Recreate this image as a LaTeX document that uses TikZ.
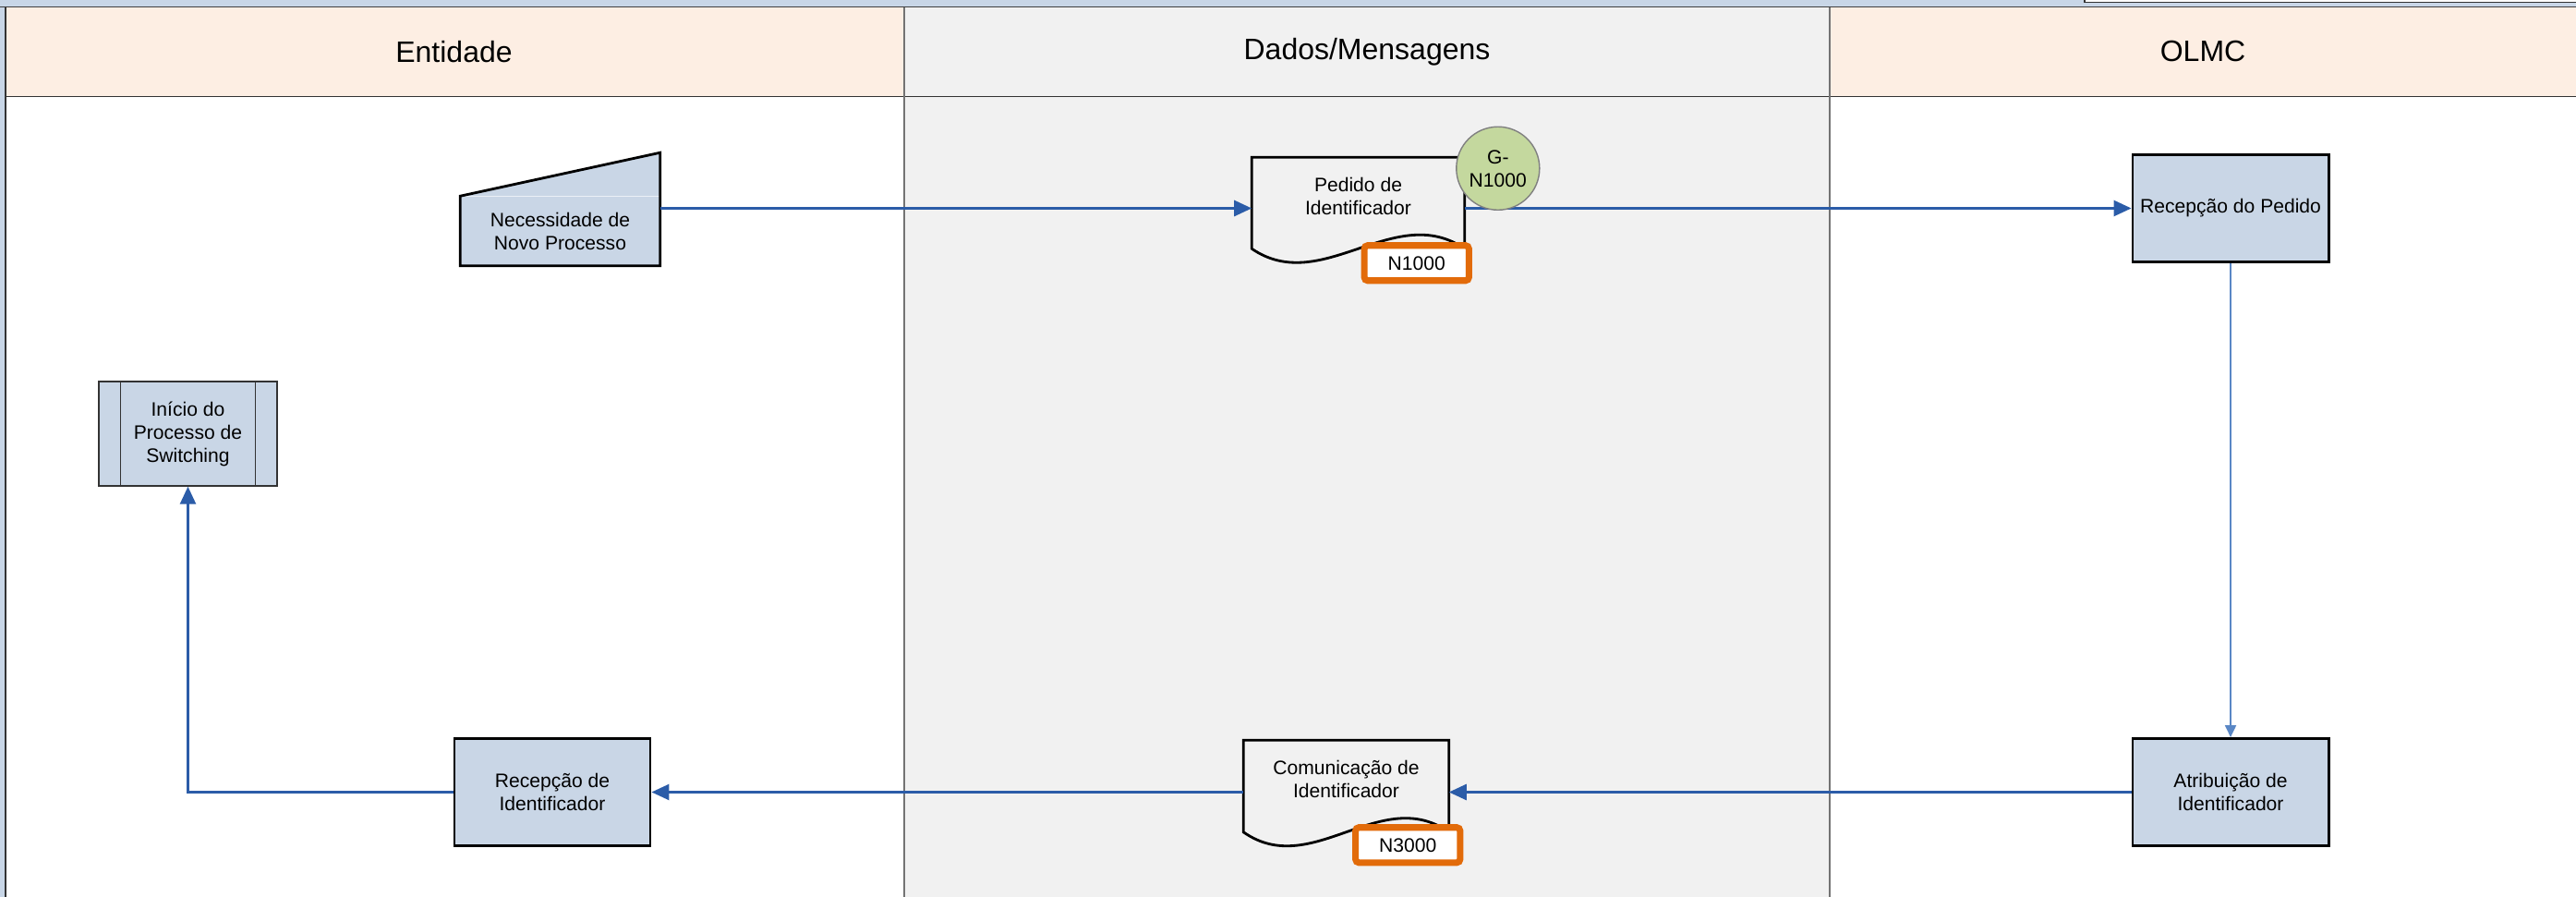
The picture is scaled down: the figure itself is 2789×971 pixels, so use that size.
\documentclass[tikz,border=0pt]{standalone}
\usepackage{fontspec}
\setmainfont{Liberation Sans}
\usetikzlibrary{positioning,arrows.meta}
\definecolor{flowBlue}{HTML}{2B5CA8}
\definecolor{lightFlow}{HTML}{5A87C5}
\definecolor{boxFill}{HTML}{C9D6E6}
\definecolor{laneHead}{HTML}{FDEEE3}
\definecolor{dataGray}{HTML}{F1F1F1}
\definecolor{topBlue}{HTML}{C8D6E7}
\definecolor{tagOrange}{HTML}{E26B0A}
\definecolor{gGreen}{HTML}{C4D89E}

\begin{document}
\begin{tikzpicture}[x=0.01cm, y=-0.01cm, font=\fontsize{6}{7.1}\selectfont,
    lanehead/.style={font=\fontsize{9.1}{11}\selectfont},
    task/.style={draw,line width=0.8pt,fill=boxFill,minimum width=2.12cm,
                 minimum height=1.16cm,align=center,inner sep=0pt},
    docbox/.style={minimum height=0.82cm,align=center,inner sep=0pt},
    tag/.style={draw=tagOrange,line width=2pt,fill=white,rounded corners=1pt,
                minimum width=1.13cm,minimum height=0.38cm,inner sep=0pt},
    flow/.style={flowBlue,line width=0.75pt,-{Triangle[length=0.19cm,width=0.17cm]}},
    thinflow/.style={lightFlow,line width=0.55pt,-{Triangle[length=0.13cm,width=0.12cm]}}]
  \useasboundingbox (0,0) rectangle (2789,971);

  % lanes
  \fill[topBlue] (0,0) rectangle (2789,971);
  \fill[laneHead] (6,8) rectangle (979,104);
  \fill[dataGray] (979,8) rectangle (1981,104);
  \fill[laneHead] (1981,8) rectangle (2789,104);
  \fill[white] (6,104) rectangle (979,971);
  \fill[dataGray] (979,104) rectangle (1981,971);
  \fill[white] (1981,104) rectangle (2789,971);
  \draw[black!75,line width=0.45pt] (0,7.5) -- (2789,7.5);
  \draw[black!80,line width=0.5pt] (6,104.5) -- (2789,104.5);
  \draw[black!80,line width=0.5pt] (6,8) -- (6,971);
  \draw[black!55,line width=0.5pt] (979,8) -- (979,971);
  \draw[black!55,line width=0.5pt] (1981,8) -- (1981,971);
  \draw[black!80,line width=0.4pt,fill=white] (2257,-3) rectangle (2795,2.5);

  \node[lanehead] (hEnt)   at (491.5,56) {Entidade};
  \node[lanehead] (hDados) at (1480,56)  {Dados/Mensagens};
  \node[lanehead] (hOlmc)  at (2385,56)  {OLMC};

  % Entidade
  \node[fill=boxFill,minimum width=2.15cm,minimum height=0.74cm,align=center,
        inner sep=0pt] (nec) at (606.5,250) {Necessidade de\\Novo Processo};
  \fill[boxFill] (nec.north west) -- ([yshift=0.47cm]nec.north east) -- (nec.north east) -- cycle;
  \draw[line width=0.8pt] (nec.north west) -- ([yshift=0.47cm]nec.north east)
      -- (nec.south east) -- (nec.south west) -- cycle;
  \node[task,draw=black!80,line width=0.4pt,minimum width=1.93cm,minimum height=1.13cm]
      (ini) at (203.5,469.5) {Início do\\Processo de\\Switching};
  \draw[black!80,line width=0.4pt] ([xshift=0.24cm]ini.north west) -- ([xshift=0.24cm]ini.south west);
  \draw[black!80,line width=0.4pt] ([xshift=-0.24cm]ini.north east) -- ([xshift=-0.24cm]ini.south east);
  \node[task] (ri) at (598,857.5) {Recepção de\\Identificador};

  % Dados/Mensagens
  \node[docbox,minimum width=2.29cm] (ped) at (1470.5,212) {Pedido de\\Identificador};
  \draw[line width=0.8pt] (ped.north west) -- (ped.north east) -- ([yshift=-0.155cm]ped.south east)
      .. controls +(-76,-52) and +(76,52) .. ([yshift=-0.155cm]ped.south west) -- cycle;
  \node[docbox,minimum width=2.21cm] (com) at (1457.5,843) {Comunicação de\\Identificador};
  \draw[line width=0.8pt] (com.north west) -- (com.north east) -- ([yshift=-0.16cm]com.south east)
      .. controls +(-74,-52) and +(74,52) .. ([yshift=-0.16cm]com.south west) -- cycle;

  % OLMC
  \node[task] (rp)  at (2415,225.5) {Recepção do Pedido};
  \node[task] (atr) at (2415,857.5) {Atribuição de\\Identificador};

  \draw[flow] (nec.east |- rp) -- (ped.west |- rp);
  \draw[flow] (ped.east |- rp) -- (rp);
  \draw[thinflow] (rp) -- (atr);
  \draw[flow] (atr) -- (com.east |- atr);
  \draw[flow] (com.west |- atr) -- (ri);
  \draw[flow] (ri) -| (ini);

  \node[circle,draw=black!50,line width=0.4pt,fill=gGreen,minimum size=0.9cm,inner sep=0pt,
        align=center] (gped) at ([xshift=0.36cm,yshift=-0.12cm]ped.north east) {G-\\N1000};
  \node[tag,anchor=north east] (n1) at ([xshift=0.08cm,yshift=-0.085cm]ped.south east) {N1000};
  \node[tag,anchor=north east] (n3) at ([xshift=0.155cm,yshift=-0.075cm]com.south east) {N3000};
\end{tikzpicture}
\end{document}
